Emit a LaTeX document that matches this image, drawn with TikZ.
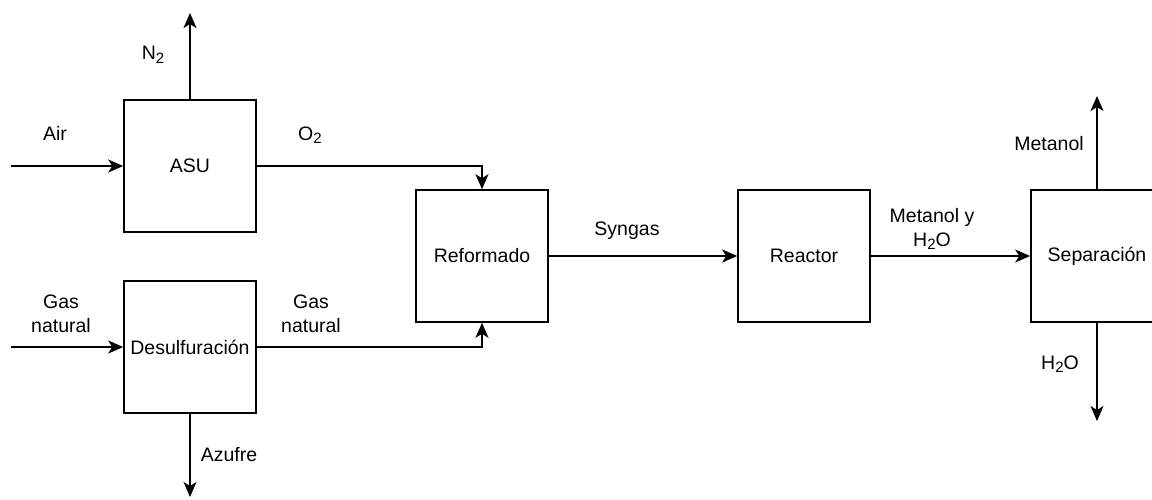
\documentclass[tikz,border=0pt]{standalone}
\usepackage{fontspec}
\setmainfont{Liberation Sans}
\usetikzlibrary{arrows.meta}
\newcommand{\lowidx}[1]{\raisebox{-0.35ex}{\fontsize{15}{15}\selectfont #1}}
\tikzset{
  unitbox/.style={draw, line width=1.6pt, minimum width=132pt, minimum height=132pt, inner sep=1pt},
  stream/.style={inner sep=0pt, align=center},
  flow/.style={line width=1.6pt, -{Stealth[length=15pt, width=13pt, inset=4pt]}}
}

\begin{document}
\begin{tikzpicture}[x=1pt, y=-1pt, font=\fontsize{19.5}{24}\selectfont]
		%%%%% START %%%%%
		\useasboundingbox (0, 0) rectangle (1152, 499);
		\clip (0, 0) rectangle (1152, 499);
		
		% process units
		\node[unitbox] (asu) at (190, 166) {ASU};
		\node[unitbox] (desulf) at (190, 347) {Desulfuración};
		\node[unitbox] (reform) at (482, 256) {Reformado};
		\node[unitbox] (reactor) at (804, 256) {Reactor};
		\node[unitbox] (separ) at (1097, 256) {Separación};
		
		% free ends of the streams
		\coordinate (airin) at (11, 166);
		\coordinate (gasin) at (11, 347);
		\coordinate (ntwoout) at (190, 13);
		\coordinate (sulfout) at (190, 497);
		\coordinate (methout) at (1097, 96);
		\coordinate (waterout) at (1097, 421);
		
		% streams
		\draw[flow] (airin) -- (asu.west);
		\draw[flow] (asu.north) -- (ntwoout);
		\draw[flow] (asu.east) -| (reform.north);
		\draw[flow] (gasin) -- (desulf.west);
		\draw[flow] (desulf.east) -| (reform.south);
		\draw[flow] (desulf.south) -- (sulfout);
		\draw[flow] (reform.east) -- (reactor.west);
		\draw[flow] (reactor.east) -- (separ.west);
		\draw[flow] (separ.north) -- (methout);
		\draw[flow] (separ.south) -- (waterout);
		
		% stream labels
		\node[stream] (airlbl) at (55, 133) {Air};
		\node[stream] (ntwolbl) at (153, 55) {N\lowidx{2}};
		\node[stream] (otwolbl) at (310, 135) {O\lowidx{2}};
		\node[stream] (gasinlbl) at (61, 314) {Gas\\natural};
		\node[stream] (gasoutlbl) at (311, 314) {Gas\\natural};
		\node[stream] (sulflbl) at (229, 455) {Azufre};
		\node[stream] (synlbl) at (627, 231) {Syngas};
		\node[stream] (mixlbl) at (932, 229) {Metanol y\\H\lowidx{2}O};
		\node[stream] (methlbl) at (1049, 144) {Metanol};
		\node[stream] (waterlbl) at (1060, 364) {H\lowidx{2}O};
		
		%%%%% END %%%%%
	\end{tikzpicture}
\end{document}
